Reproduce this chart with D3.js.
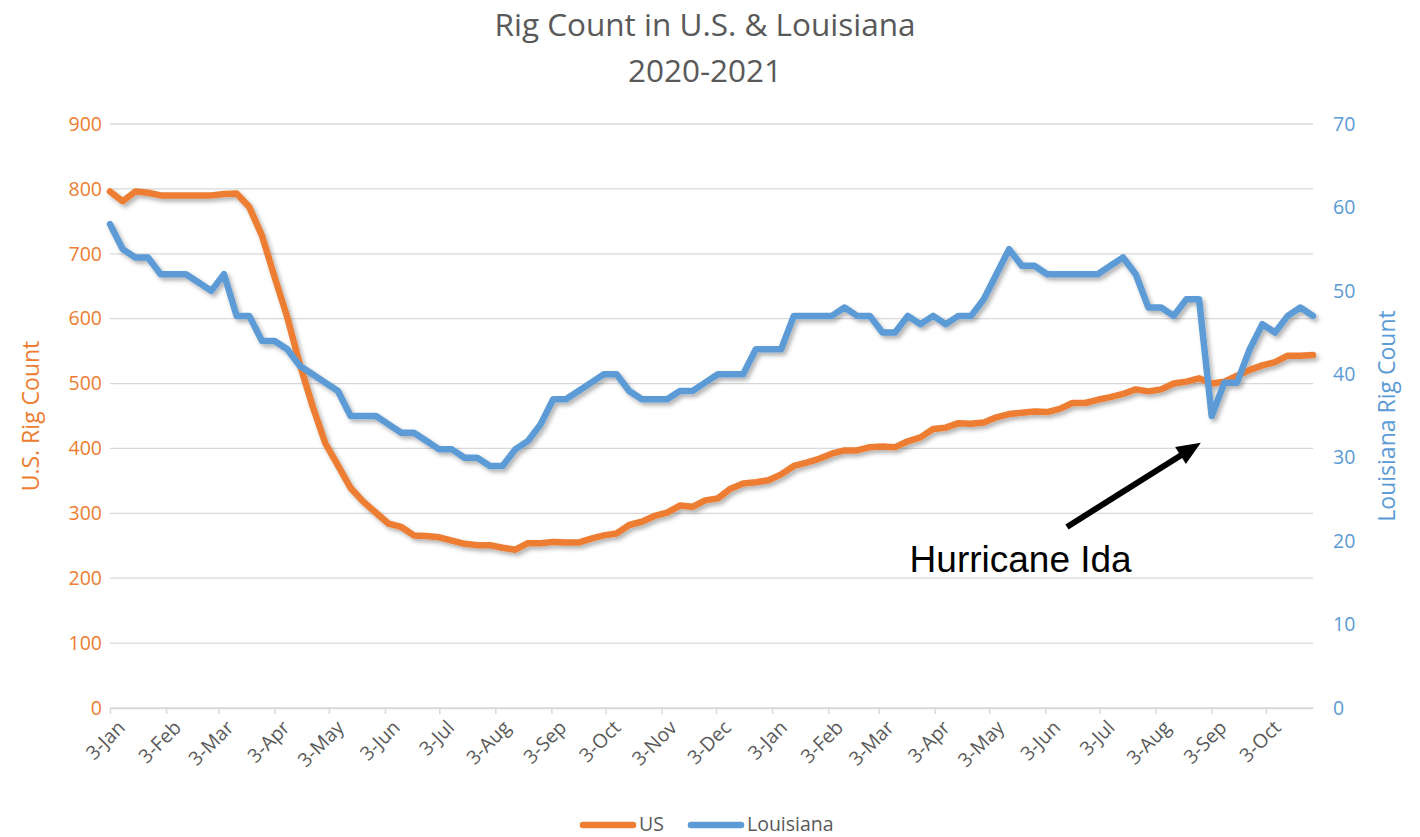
<!DOCTYPE html>
<html>
<head>
<meta charset="utf-8">
<title>Rig Count in U.S. & Louisiana</title>
<script src="https://cdn.jsdelivr.net/npm/d3@7"></script>
<style>
  body { margin: 0; background: #fff; }
  text { font-family: "Open Sans", "Noto Sans", sans-serif; }
</style>
</head>
<body>
<svg id="chart" width="1420" height="837"></svg>
<script>
// Weekly rig counts, one value per Friday from 3 Jan 2020 to 29 Oct 2021
const firstWeek = "2020-01-03";
const lastWeek = "2021-10-29";

const usRigs = [
  796, 781, 796, 794, 790, 790, 790, 790, 790, 792, 793, 772, 728, 664, 602, 529,
  465, 408, 374, 339, 318, 301, 284, 279, 266, 265, 263, 258, 253, 251, 251, 247,
  244, 254, 254, 256, 255, 255, 261, 266, 269, 282, 287, 296, 301, 312, 310, 320,
  323, 338, 346, 348, 351, 360, 373, 378, 384, 392, 397, 397, 402, 403, 402, 411,
  417, 430, 432, 439, 438, 440, 448, 453, 455, 457, 456, 461, 470, 470, 475, 479,
  484, 491, 488, 491, 500, 503, 508, 500, 503, 512, 521, 528, 533, 543, 543, 544
];

const laRigs = [
  58, 55, 54, 54, 52, 52, 52, 51, 50, 52, 47, 47, 44, 44, 43, 41,
  40, 39, 38, 35, 35, 35, 34, 33, 33, 32, 31, 31, 30, 30, 29, 29,
  31, 32, 34, 37, 37, 38, 39, 40, 40, 38, 37, 37, 37, 38, 38, 39,
  40, 40, 40, 43, 43, 43, 47, 47, 47, 47, 48, 47, 47, 45, 45, 47,
  46, 47, 46, 47, 47, 49, 52, 55, 53, 53, 52, 52, 52, 52, 52, 53,
  54, 52, 48, 48, 47, 49, 49, 35, 39, 39, 43, 46, 45, 47, 48, 47
];

const monthTicks = [
  "2020-01-03", "2020-02-03", "2020-03-03", "2020-04-03", "2020-05-03", "2020-06-03",
  "2020-07-03", "2020-08-03", "2020-09-03", "2020-10-03", "2020-11-03", "2020-12-03",
  "2021-01-03", "2021-02-03", "2021-03-03", "2021-04-03", "2021-05-03", "2021-06-03",
  "2021-07-03", "2021-08-03", "2021-09-03", "2021-10-03"
];
const usTicks = [0, 100, 200, 300, 400, 500, 600, 700, 800, 900];
const laTicks = [0, 10, 20, 30, 40, 50, 60, 70];

const seriesNames = ["US", "Louisiana"];

// Annotation: label and arrow placed in data coordinates (date, Louisiana count)
const noteText = "Hurricane Ida";
const noteLabelAt = ["2021-03-20", 16.3];
const noteTail = ["2021-06-15", 21.7];
const noteTip = ["2021-08-28", 31.8];

const ORANGE = "#ED7D31", BLUE = "#5B9BD5", GRID = "#d9d9d9", TEXT = "#595959";
const parse = d3.timeParse("%Y-%m-%d");

const weeks = d3.timeDay.range(parse(firstWeek), d3.timeDay.offset(parse(lastWeek), 1), 7);

const margin = { left: 110, right: 1420 - 1313, top: 124, bottom: 837 - 708 };
const W = 1420, H = 837;

const x = d3.scaleTime().domain([parse(firstWeek), parse(lastWeek)]).range([margin.left, W - margin.right]);
const yL = d3.scaleLinear().domain([0, 900]).range([H - margin.bottom, margin.top]);
const yR = d3.scaleLinear().domain([0, 70]).range([H - margin.bottom, margin.top]);

const svg = d3.select("#chart");

// Soft drop shadow under the data lines
const defs = svg.append("defs");
const f = defs.append("filter").attr("id", "shadow")
  .attr("x", "-5%").attr("y", "-5%").attr("width", "110%").attr("height", "115%");
f.append("feDropShadow").attr("dx", 2.5).attr("dy", 3).attr("stdDeviation", 2)
  .attr("flood-color", "#000").attr("flood-opacity", 0.3);

// Title
const title = svg.append("g").attr("fill", TEXT).attr("text-anchor", "middle");
title.append("text").attr("x", 705).attr("y", 35.5).attr("font-size", 31.5).text("Rig Count in U.S. & Louisiana");
title.append("text").attr("x", 705).attr("y", 82).attr("font-size", 31.5).text("2020-2021");

// Horizontal gridlines (shared by both axes)
svg.append("g").selectAll("line").data(usTicks).join("line")
  .attr("x1", x.range()[0]).attr("x2", x.range()[1])
  .attr("y1", d => yL(d)).attr("y2", d => yL(d))
  .attr("stroke", GRID).attr("stroke-width", 1.3);

// Left axis (US)
const leftAxis = svg.append("g").attr("transform", `translate(${margin.left},0)`)
  .call(d3.axisLeft(yL).tickValues(usTicks).tickSize(0).tickPadding(8));
leftAxis.select(".domain").remove();
leftAxis.selectAll("text").attr("fill", ORANGE).attr("font-size", 19.5)
  .style("font-family", '"Open Sans", sans-serif');

// Right axis (Louisiana)
const rightAxis = svg.append("g").attr("transform", `translate(${W - margin.right},0)`)
  .call(d3.axisRight(yR).tickValues(laTicks).tickSize(0).tickPadding(20));
rightAxis.select(".domain").remove();
rightAxis.selectAll("text").attr("fill", BLUE).attr("font-size", 19.5)
  .style("font-family", '"Open Sans", sans-serif');

// Bottom date axis with monthly ticks
const bottomAxis = svg.append("g").attr("transform", `translate(0,${yL(0)})`)
  .call(d3.axisBottom(x).tickValues(monthTicks.map(parse)).tickFormat(d3.timeFormat("%-d-%b"))
    .tickSize(6).tickSizeOuter(0));
bottomAxis.select(".domain").attr("stroke", GRID).attr("stroke-width", 1.5);
bottomAxis.selectAll(".tick line").attr("stroke", GRID).attr("stroke-width", 1.5);
bottomAxis.selectAll(".tick text")
  .attr("fill", TEXT).attr("font-size", 19.5)
  .style("font-family", '"Open Sans", sans-serif')
  .attr("text-anchor", "end")
  .attr("dy", "0.35em")
  .attr("transform", "translate(11,16) rotate(-45)")
  .attr("x", 0).attr("y", 0);

// Axis titles
svg.append("text").attr("transform", `translate(39,${(yL(0) + yL(900)) / 2}) rotate(-90)`)
  .attr("text-anchor", "middle").attr("fill", ORANGE).attr("font-size", 23)
  .text("U.S. Rig Count");
svg.append("text").attr("transform", `translate(1395,${(yR(0) + yR(70)) / 2}) rotate(-90)`)
  .attr("text-anchor", "middle").attr("fill", BLUE).attr("font-size", 23)
  .text("Louisiana Rig Count");

// Data lines
const lineUS = d3.line().x((d, i) => x(weeks[i])).y(d => yL(d));
const lineLA = d3.line().x((d, i) => x(weeks[i])).y(d => yR(d));

const plot = svg.append("g").attr("filter", "url(#shadow)");
plot.append("path").datum(usRigs).attr("d", lineUS)
  .attr("fill", "none").attr("stroke", ORANGE).attr("stroke-width", 6.5)
  .attr("stroke-linejoin", "round").attr("stroke-linecap", "round");
plot.append("path").datum(laRigs).attr("d", lineLA)
  .attr("fill", "none").attr("stroke", BLUE).attr("stroke-width", 6.5)
  .attr("stroke-linejoin", "round").attr("stroke-linecap", "round");

// Hurricane Ida annotation
const tail = [x(parse(noteTail[0])), yR(noteTail[1])];
const tip = [x(parse(noteTip[0])), yR(noteTip[1])];
const ang = Math.atan2(tip[1] - tail[1], tip[0] - tail[0]);
const headLen = 24, headHalf = 10;
const base = [tip[0] - headLen * Math.cos(ang), tip[1] - headLen * Math.sin(ang)];
svg.append("line")
  .attr("x1", tail[0]).attr("y1", tail[1]).attr("x2", base[0] + 2 * Math.cos(ang)).attr("y2", base[1] + 2 * Math.sin(ang))
  .attr("stroke", "#000").attr("stroke-width", 6);
svg.append("polygon")
  .attr("points", [
    tip,
    [base[0] + headHalf * Math.sin(ang), base[1] - headHalf * Math.cos(ang)],
    [base[0] - headHalf * Math.sin(ang), base[1] + headHalf * Math.cos(ang)]
  ].map(p => p.join(",")).join(" "))
  .attr("fill", "#000");
svg.append("text")
  .attr("x", x(parse(noteLabelAt[0]))).attr("y", yR(noteLabelAt[1]))
  .attr("font-size", 37).attr("fill", "#000")
  .style("font-family", '"Liberation Sans", Arial, sans-serif')
  .text(noteText);

// Legend
const legend = svg.append("g");
const legendItems = [
  { name: seriesNames[0], color: ORANGE, x0: 583 },
  { name: seriesNames[1], color: BLUE, x0: 691 }
];
legendItems.forEach(it => {
  legend.append("line").attr("x1", it.x0).attr("x2", it.x0 + 50)
    .attr("y1", 825).attr("y2", 825)
    .attr("stroke", it.color).attr("stroke-width", 6.5).attr("stroke-linecap", "round");
  legend.append("text").attr("x", it.x0 + 56).attr("y", 831)
    .attr("fill", TEXT).attr("font-size", 19.5).text(it.name);
});
</script>
</body>
</html>
